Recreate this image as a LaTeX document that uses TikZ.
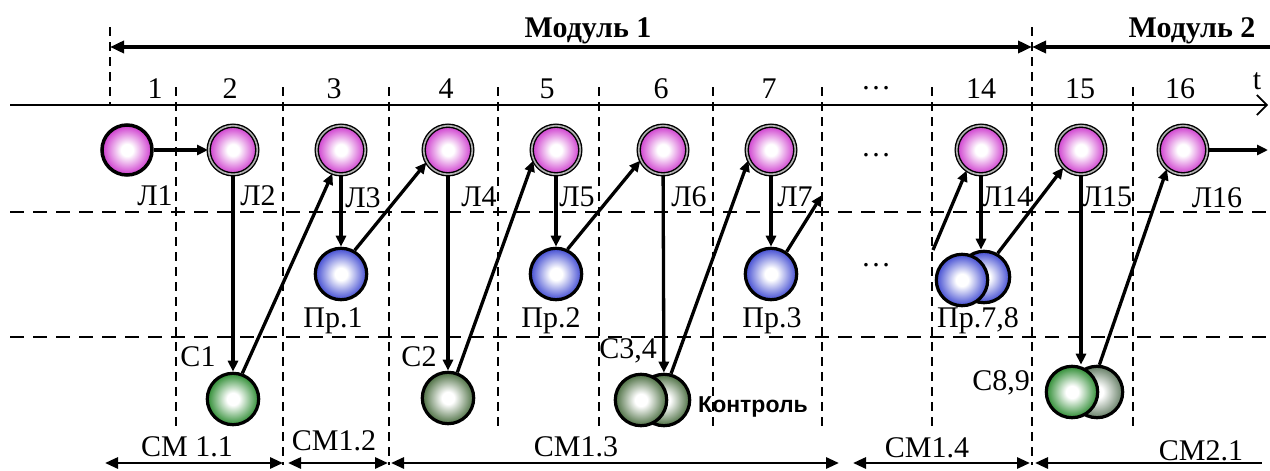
\documentclass[tikz,border=0pt]{standalone}
\usepackage{fontspec}
\setmainfont{Liberation Serif}
\newfontfamily\kontrfont{Liberation Sans}
\usepackage{tikz}
\usetikzlibrary{positioning, arrows.meta}
\definecolor{lecpink}{RGB}{205,55,205}
\definecolor{pracblue}{RGB}{65,75,210}
\definecolor{semgreen}{RGB}{45,140,50}
\definecolor{semdark}{RGB}{75,110,65}
\definecolor{semgray}{RGB}{100,125,100}
\pgfdeclareradialshading{lecshade}{\pgfpoint{0bp}{0bp}}{color(0bp)=(white); color(6bp)=(white); color(25bp)=(lecpink); color(50bp)=(lecpink)}
\pgfdeclareradialshading{pracshade}{\pgfpoint{0bp}{0bp}}{color(0bp)=(white); color(6bp)=(white); color(25bp)=(pracblue); color(50bp)=(pracblue)}
\pgfdeclareradialshading{greenshade}{\pgfpoint{0bp}{0bp}}{color(0bp)=(white); color(6bp)=(white); color(25bp)=(semgreen); color(50bp)=(semgreen)}
\pgfdeclareradialshading{darkshade}{\pgfpoint{0bp}{0bp}}{color(0bp)=(white); color(6bp)=(white); color(25bp)=(semdark); color(50bp)=(semdark)}
\pgfdeclareradialshading{grayshade}{\pgfpoint{0bp}{0bp}}{color(0bp)=(white); color(6bp)=(white); color(25bp)=(semgray); color(50bp)=(semgray)}

\begin{document}
\begin{tikzpicture}[
    x=1pt, y=-1pt,
    every node/.style={inner sep=0pt, font=\fontsize{30}{31}\selectfont},
    arrow/.style={-{Triangle[length=11pt,width=10pt]}, line width=3.3pt},
    modarrow/.style={>={Triangle[length=14pt,width=12pt]}, line width=3.5pt},
    cmarrow/.style={>={Triangle[length=13pt,width=11pt]}, line width=2.9pt},
    vline/.style={dash pattern=on 9pt off 6pt, line width=1.6pt},
    hline/.style={dash pattern=on 14pt off 9pt, line width=2pt},
    lect/.style={circle, minimum size=48.6pt, draw, line width=1.4pt, double=gray!60, double distance=1.6pt, shading=lecshade},
    lectfirst/.style={circle, minimum size=50pt, draw, line width=3.5pt, shading=lecshade},
    prac/.style={circle, minimum size=51.4pt, draw, line width=3.2pt, shading=pracshade},
    sem/.style={circle, minimum size=51.4pt, draw, line width=3.2pt, shading=#1},
    modtitle/.style={font=\bfseries\fontsize{30}{31}\selectfont}
]
\useasboundingbox (0,0) rectangle (1270,471);

\draw [vline] (110,27) -- (110,105);
\draw [vline] (176,87) -- (176,427);
\draw [vline] (283,87) -- (283,465);
\draw [vline] (389,87) -- (389,465);
\draw [vline] (498,87) -- (498,427);
\draw [vline] (599,87) -- (599,427);
\draw [vline] (713,87) -- (713,427);
\draw [vline] (822,87) -- (822,427);
\draw [vline] (932,87) -- (932,430);
\draw [vline] (1032,27) -- (1032,465);
\draw [vline] (1133,87) -- (1133,430);
\draw [hline] (10,212) -- (1270,212);
\draw [hline] (10,337) -- (1270,337);

\node (MOD1) [modtitle] at (588,31) {Модуль 1};
\node (MOD2) [modtitle] at (1192,31) {Модуль 2};
\coordinate (M0) at (110,47);
\coordinate (M1) at (1032,47);
\coordinate (M2) at (1270,47);
\draw [modarrow, <->] (M0) -- (M1);
\draw [modarrow, <-] (M1) -- (M2);

\coordinate (T0) at (10,105);
\coordinate (T1) at (1268,105);
\draw [line width=1.7pt, -{Straight Barb[length=10pt,width=20pt]}] (T0) -- (T1);
\node (TLAB) at (1257,81) {t};
\node (N1) at (155,89) {1};
\node (N2) at (230,89) {2};
\node (N3) at (334,89) {3};
\node (N4) at (446,89) {4};
\node (N5) at (547,89) {5};
\node (N6) at (661,89) {6};
\node (N7) at (769,89) {7};
\node (NDOTS) at (876,88) {\dots};
\node (N14) at (981,89) {14};
\node (N15) at (1080,89) {15};
\node (N16) at (1180,89) {16};

\node (L1) [lectfirst] at (127,150) {};
\node (L2) [lect] at (233,150) {};
\node (L3) [lect] at (341,150) {};
\node (L4) [lect] at (448,150) {};
\node (L5) [lect] at (556,150) {};
\node (L6) [lect] at (663,150) {};
\node (L7) [lect] at (771,150) {};
\node (LDOTS) at (876,155) {\dots};
\node (L14) [lect] at (981,150) {};
\node (L15) [lect] at (1081,150) {};
\node (L16) [lect] at (1183,150) {};

\node (PR1) [prac] at (341,274) {};
\node (PR2) [prac] at (556,274) {};
\node (PR3) [prac] at (771,274) {};
\node (PRDOTS) at (876,265) {\dots};
\node (PR78b) [prac] at (984,277) {};
\node (PR78a) [prac] at (962,280) {};

\node (S1) [sem=greenshade] at (233,399) {};
\node (S2) [sem=darkshade] at (448,398) {};
\node (S34b) [sem=darkshade] at (664,400) {};
\node (S34a) [sem=darkshade] at (641,400) {};
\node (S89b) [sem=grayshade] at (1097,392) {};
\node (S89a) [sem=greenshade] at (1072,392) {};

\node (L1LAB) at (155,196) {Л1};
\node (L2LAB) at (258,196) {Л2};
\node (L3LAB) at (363,198) {Л3};
\node (L4LAB) at (479,197) {Л4};
\node (L5LAB) at (577,197) {Л5};
\node (L6LAB) at (689,197) {Л6};
\node (L7LAB) at (795,197) {Л7};
\node (L14LAB) at (1007,197) {Л14};
\node (L15LAB) at (1107,197) {Л15};
\node (L16LAB) at (1217,198) {Л16};
\node (PR1LAB) at (333,321) {Пр.1};
\node (PR2LAB) at (551,321) {Пр.2};
\node (PR3LAB) at (772,321) {Пр.3};
\node (PR78LAB) at (978,321) {Пр.7,8};
\node (S1LAB) at (198,357) {С1};
\node (S2LAB) at (419,357) {С2};
\node (S34LAB) at (628,351) {С3,4};
\node (S89LAB) at (1001,383) {С8,9};
\node (KONTR) [font=\kontrfont\bfseries\fontsize{23}{24}\selectfont] at (753,407) {Контроль};

\coordinate (OUT7) at (822,195);
\coordinate (IN14) at (933,250);
\coordinate (OUT16) at (1268,150);
\draw [arrow] (L1) -- (L2);
\draw [arrow] (L2) -- (S1);
\draw [arrow] (S1.70) -- (L3.250);
\draw [arrow] (L3) -- (PR1);
\draw [arrow] (PR1.60) -- (L4.210);
\draw [arrow] (L4) -- (S2);
\draw [arrow] (S2.70) -- (L5.205);
\draw [arrow] (L5) -- (PR2);
\draw [arrow] (PR2.65) -- (L6.205);
\draw [arrow] (L6) -- (S34b);
\draw [arrow] (S34b.75) -- (L7.205);
\draw [arrow] (L7) -- (PR3);
\draw [arrow] (PR3.55) -- (OUT7);
\draw [arrow] (IN14) -- (L14.235);
\draw [arrow] (L14) -- (L14 |- PR78b.north);
\draw [arrow] (PR78b.60) -- (L15.225);
\draw [arrow] (L15) -- (L15 |- S89a.north);
\draw [arrow] (S89b.85) -- (L16.230);
\draw [arrow] (L16) -- (OUT16);

\node (CM11) at (187,447) {СМ 1.1};
\node (CM12) at (334,441) {СМ1.2};
\node (CM13) at (576,447) {СМ1.3};
\node (CM14) at (927,448) {СМ1.4};
\node (CM21) at (1201,451) {СМ2.1};
\coordinate (B0) at (105,463);
\coordinate (B1) at (283,463);
\coordinate (B2) at (288,463);
\coordinate (B3) at (388,463);
\coordinate (B4) at (391,463);
\coordinate (B5) at (839,463);
\coordinate (B6) at (853,463);
\coordinate (B7) at (1030,463);
\coordinate (B8) at (1035,463);
\coordinate (B9) at (1262,463);
\draw [cmarrow, <->] (B0) -- (B1);
\draw [cmarrow, <->] (B2) -- (B3);
\draw [cmarrow, <->] (B4) -- (B5);
\draw [cmarrow, <->] (B6) -- (B7);
\draw [cmarrow, <-] (B8) -- (B9);

\end{tikzpicture}
\end{document}
